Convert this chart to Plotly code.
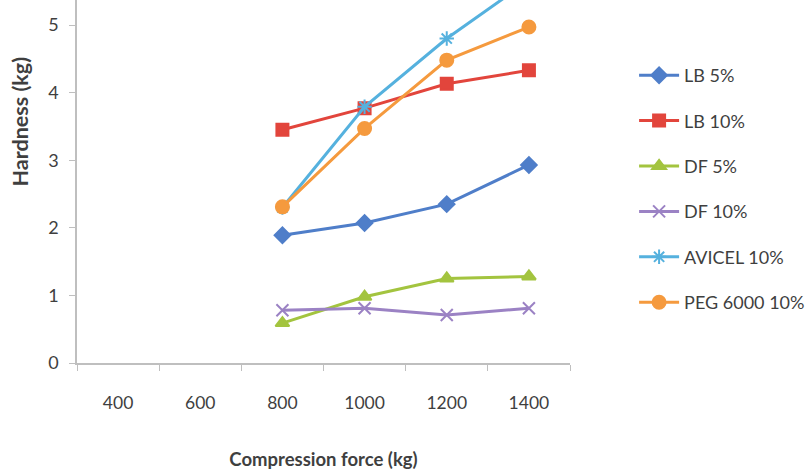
import plotly.graph_objects as go

# Compression force levels (kg) and tablet hardness (kg) per formulation
force = ["400", "600", "800", "1000", "1200", "1400"]
measured_force = ["800", "1000", "1200", "1400"]

lb_5 = [1.89, 2.07, 2.35, 2.93]
lb_10 = [3.45, 3.77, 4.13, 4.33]
df_5 = [0.59, 0.98, 1.25, 1.28]
df_10 = [0.78, 0.81, 0.71, 0.81]
avicel_10 = [2.30, 3.79, 4.80, 5.66]
peg_10 = [2.31, 3.47, 4.48, 4.97]

series = [
    ("LB 5%", lb_5, "#4F7EC9", "diamond", 12),
    ("LB 10%", lb_10, "#E2453C", "square", 12),
    ("DF 5%", df_5, "#A3C43F", "triangle-up", 12),
    ("DF 10%", df_10, "#9B82C4", "x-thin-open", 12),
    ("AVICEL 10%", avicel_10, "#55B1DE", "asterisk-open", 12),
    ("PEG 6000 10%", peg_10, "#F59A3E", "circle", 13),
]

fig = go.Figure()
for name, vals, color, symbol, size in series:
    fig.add_trace(go.Scatter(
        x=measured_force, y=vals, name=name, mode="lines+markers",
        legendgroup=name,
        line=dict(color=color, width=3),
        marker=dict(symbol=symbol, size=size, color=color,
                    line=dict(color=color, width=2)),
        cliponaxis=True,
    ))

text_color = "#3F3F3F"
font_family = "Lato, Open Sans, sans-serif"

fig.update_layout(
    width=811, height=470,
    margin=dict(l=77, r=241, t=0, b=107),
    paper_bgcolor="white", plot_bgcolor="white",
    font=dict(family=font_family, color=text_color, size=17),
    xaxis=dict(
        type="category", categoryorder="array", categoryarray=force,
        range=[-0.5, 5.5], tickson="boundaries",
        showline=True, linecolor="#BFBFBF", linewidth=1.5,
        ticks="outside", ticklen=6, tickcolor="#BFBFBF",
        showgrid=False, zeroline=False,
        tickfont=dict(size=17.5, color=text_color),
        ticklabelstandoff=23,
        title=dict(text="<b>Compression force (kg)</b>",
                   font=dict(size=18.5, color=text_color), standoff=42),
    ),
    yaxis=dict(
        range=[0, 5.37], tickvals=[0, 1, 2, 3, 4, 5],
        showline=True, linecolor="#BFBFBF", linewidth=1.5,
        ticks="outside", ticklen=6, tickcolor="#BFBFBF",
        showgrid=False, zeroline=False,
        tickfont=dict(size=18, color=text_color),
        ticklabelstandoff=7,
    ),
    annotations=[dict(
        text="<b>Hardness (kg)</b>", textangle=-90,
        xref="paper", yref="paper", x=-0.116, y=0.665,
        xanchor="center", yanchor="middle", showarrow=False,
        font=dict(size=21.5, color=text_color),
    )],
    legend=dict(
        x=1.13, y=0.843, xanchor="left", yanchor="top",
        font=dict(size=18, color=text_color),
        tracegroupgap=19, itemwidth=40,
        bgcolor="rgba(0,0,0,0)",
    ),
)

fig.write_html("out.html")
